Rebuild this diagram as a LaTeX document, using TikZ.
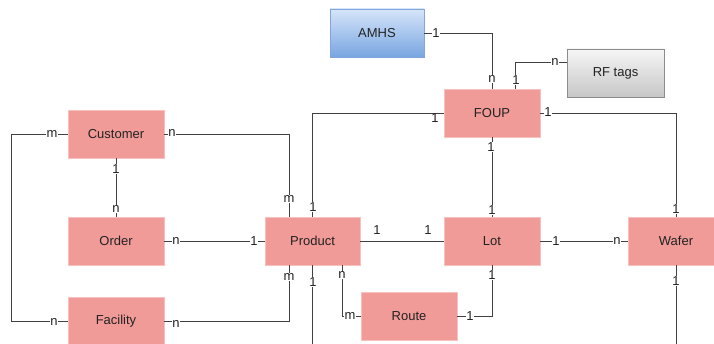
\documentclass[tikz,border=0pt]{standalone}
\usepackage{fontspec}
\setmainfont{Liberation Sans}
\definecolor{boxfill}{RGB}{241,155,152}
\definecolor{boxline}{RGB}{248,192,190}
\definecolor{lnc}{RGB}{64,64,64}
\definecolor{txt}{RGB}{34,34,34}
\definecolor{bluetop}{RGB}{214,229,250}
\definecolor{bluebot}{RGB}{120,165,225}
\definecolor{blueline}{RGB}{130,165,220}
\definecolor{graytop}{RGB}{246,246,246}
\definecolor{graybot}{RGB}{198,198,198}
\definecolor{grayline}{RGB}{140,140,140}
\begin{document}
\begin{tikzpicture}[x=1pt,y=-1pt,
  ent/.style={rectangle, minimum width=96pt, minimum height=48pt, inner sep=0pt,
    fill=boxfill, draw=boxline, line width=0.8pt, text=txt, font=\fontsize{13}{15}\selectfont},
  bluebox/.style={ent, top color=bluetop, bottom color=bluebot, draw=blueline},
  graybox/.style={ent, top color=graytop, bottom color=graybot, draw=grayline},
  conn/.style={draw=lnc, line width=0.8pt},
  lab/.style={fill=white, inner sep=0.6pt, text=txt, font=\fontsize{13}{14}\selectfont},
  labnf/.style={inner sep=0.6pt, text=txt, font=\fontsize{13}{14}\selectfont}]
\clip (0,0) rectangle (714,344);
\fill[white] (0,0) rectangle (714,344);

% entities
\node[bluebox, minimum width=94pt] (AMHS) at (377,33) {AMHS};
\node[graybox, minimum width=97pt] (RF) at (615.5,73) {RF tags};
\node[ent] (FOUP) at (492,113) {FOUP};
\node[ent] (Customer) at (116,134) {Customer};
\node[ent] (Order) at (116,241) {Order};
\node[ent, minimum width=95pt] (Product) at (312.5,241) {Product};
\node[ent] (Lot) at (492,241) {Lot};
\node[ent] (Wafer) at (676,241) {Wafer};
\node[ent] (Route) at (409,316) {Route};
\node[ent] (Facility) at (116,321) {Facility};
\coordinate (pbot) at (312.5,350);
\coordinate (wbot) at (676,350);

% connectors
\draw[conn] (AMHS.east) -| (FOUP.north);
\draw[conn] ([yshift=11pt]RF.west) -| ([xshift=23pt]FOUP.north);
\draw[conn] (FOUP.west) -| (Product.north);
\draw[conn] (FOUP.east) -| (Wafer.north);
\draw[conn] (FOUP.south) -- (Lot.north);
\draw[conn] (Customer.west) -- ++(-56,0) |- (Facility.west);
\draw[conn] (Customer.east) -| ([xshift=-23.5pt]Product.north);
\draw[conn] (Customer.south) -- (Order.north);
\draw[conn] (Order.east) -- (Product.west);
\draw[conn] (Product.east) -- (Lot.west);
\draw[conn] (Lot.east) -- (Wafer.west);
\draw[conn] ([xshift=-23.5pt]Product.south) |- (Facility.east);
\draw[conn] (Product.south) -- (pbot);
\draw[conn] ([xshift=29.5pt]Product.south) |- (Route.west);
\draw[conn] (Route.east) -| (Lot.south);
\draw[conn] (Wafer.south) -- (wbot);

% cardinality labels
\node[lab] (l1) at (436,33) {1};
\node[lab] (l2) at (492,79) {n};
\node[lab] (l3) at (555,62) {n};
\node[lab] (l4) at (516,80) {1};
\node[labnf] (l5) at (435,118) {1};
\node[lab] (l6) at (313,207) {1};
\node[lab] (l7) at (548,112) {1};
\node[lab] (l8) at (676,209) {1};
\node[lab] (l9) at (491,147) {1};
\node[lab] (l10) at (492,210) {1};
\node[lab] (l11) at (52,134) {m};
\node[lab] (l12) at (54,322) {n};
\node[lab] (l13) at (172,133) {n};
\node[lab] (l14) at (289,199) {m};
\node[lab] (l15) at (116,169) {1};
\node[lab] (l16) at (116,209) {n};
\node[lab] (l17) at (176,241) {n};
\node[lab] (l18) at (254,241) {1};
\node[labnf] (l19) at (377,230) {1};
\node[labnf] (l20) at (428,230) {1};
\node[lab] (l21) at (556,241) {1};
\node[lab] (l22) at (617,241) {n};
\node[lab] (l23) at (289,277) {m};
\node[lab] (l24) at (176,324) {n};
\node[lab] (l25) at (313,282) {1};
\node[lab] (l26) at (342,275) {n};
\node[lab] (l27) at (350,316) {m};
\node[lab] (l28) at (470,316) {1};
\node[lab] (l29) at (492,275) {1};
\node[lab] (l30) at (676,281) {1};
\end{tikzpicture}
\end{document}
